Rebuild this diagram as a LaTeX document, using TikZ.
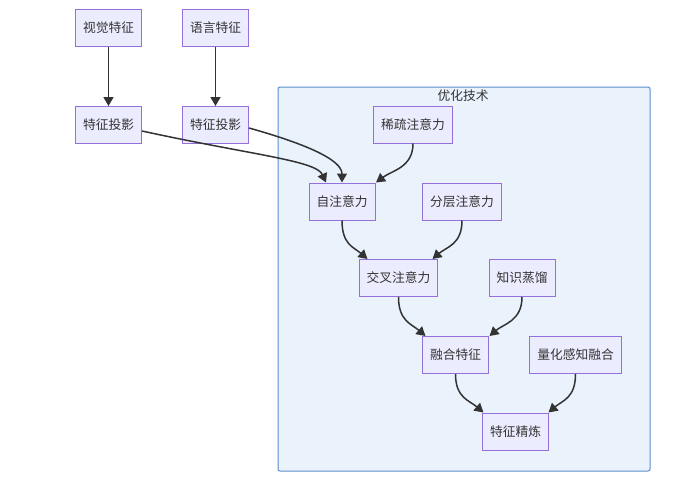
\documentclass[tikz,border=0pt]{standalone}
\usepackage{fontspec}
\setmainfont{Noto Sans CJK SC}
\usetikzlibrary{arrows.meta}
\definecolor{nodefill}{HTML}{ECECFF}
\definecolor{nodeline}{HTML}{9370DB}
\definecolor{clusterfill}{HTML}{EAF2FC}
\definecolor{clusterline}{HTML}{5B8FCB}
\definecolor{edgecol}{HTML}{333333}
\definecolor{txt}{HTML}{333333}
\tikzset{
  box/.style={draw=nodeline, fill=nodefill, line width=1pt, minimum height=37pt,
    inner xsep=7.5pt, inner ysep=0pt, text=txt, font=\fontsize{12.75pt}{15pt}\selectfont, anchor=center},
  edge/.style={draw=edgecol, line width=1.5pt, -{Triangle[length=9pt,width=10pt]}},
}
\begin{document}
\begin{tikzpicture}[x=1pt,y=-1pt]
\useasboundingbox[fill=white] (0,0) rectangle (686,490);
% cluster
\node[draw=clusterline, fill=clusterfill, line width=1pt, rounded corners=2pt,
  minimum width=372pt, minimum height=384pt, anchor=north west, inner sep=0pt] (cl) at (277.5,86.5) {};
\node[text=txt, font=\fontsize{12.75pt}{15pt}\selectfont] (cltitle) at (463,96) {优化技术};
% nodes
\node[box] (vis) at (108.5,27.5) {视觉特征};
\node[box] (lang) at (215.5,27.5) {语言特征};
\node[box] (proj1) at (108.5,125) {特征投影};
\node[box] (proj2) at (215.5,125) {特征投影};
\node[box] (sparse) at (413,124.5) {稀疏注意力};
\node[box] (self) at (342,201.5) {自注意力};
\node[box] (hier) at (462,201.5) {分层注意力};
\node[box] (cross) at (398.5,278) {交叉注意力};
\node[box] (kd) at (522,278) {知识蒸馏};
\node[box] (fuse) at (455.5,355) {融合特征};
\node[box] (quant) at (575.5,355) {量化感知融合};
\node[box] (refine) at (515.5,431.5) {特征精炼};
% edges
\draw[edge] (vis.south) -- (proj1.north);
\draw[edge] (lang.south) -- (proj2.north);
\draw[edge] ([yshift=-6pt]proj1.east) .. controls +(110,24) and +(-10,-22) .. ([xshift=-16pt]self.north);
\draw[edge] ([yshift=-3pt]proj2.east) .. controls +(50,14) and +(0,-24) .. ([xshift=0pt]self.north);
\draw[edge] (sparse.south) .. controls +(0,24) and +(16,-12) .. ([xshift=34pt]self.north);
\draw[edge] (self.south) .. controls +(0,24) and +(-14,-12) .. ([xshift=-31pt]cross.north);
\draw[edge] (hier.south) .. controls +(0,24) and +(14,-12) .. ([xshift=34pt]cross.north);
\draw[edge] (cross.south) .. controls +(0,24) and +(-14,-12) .. ([xshift=-30pt]fuse.north);
\draw[edge] (kd.south) .. controls +(0,24) and +(14,-12) .. ([xshift=34pt]fuse.north);
\draw[edge] (fuse.south) .. controls +(0,24) and +(-14,-12) .. ([xshift=-32pt]refine.north);
\draw[edge] (quant.south) .. controls +(0,24) and +(14,-12) .. ([xshift=33pt]refine.north);
\end{tikzpicture}
\end{document}
